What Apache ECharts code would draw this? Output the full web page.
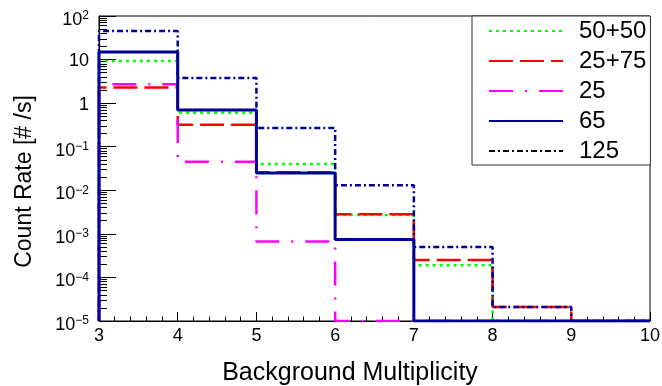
<!DOCTYPE html>
<html>
<head>
<meta charset="utf-8">
<script src="https://cdn.jsdelivr.net/npm/echarts@6/dist/echarts.min.js"></script>
<style>
html,body{margin:0;padding:0;background:#fff;}
#chart{width:662px;height:386px;}
</style>
</head>
<body>
<div id="chart"></div>
<script>
// Bin edges (Background Multiplicity)
const binEdges = [3, 4, 5, 6, 7, 8, 9, 10];
// Count rates per bin [#/s] (0 = empty bin)
const rate5050 = [9.3, 0.6, 0.04, 2.7e-3, 1.9e-4, 0, 0];
const rate2575 = [2.3, 0.32, 0.026, 2.8e-3, 2.5e-4, 2.1e-5, 0];
const rate25   = [2.7, 0.045, 6.7e-4, 0, 0, 0, 0];
const rate65   = [15, 0.7, 0.025, 7.4e-4, 0, 0, 0];
const rate125  = [45, 3.8, 0.27, 0.013, 5.0e-4, 2.1e-5, 0];
const seriesNames = ['50+50', '25+75', '25', '65', '125'];
const yMin = 1e-5, yMax = 100;
const xTicks = [3, 4, 5, 6, 7, 8, 9, 10];

function stepData(vals) {
  const clip = v => (v > yMin ? v : yMin);
  const d = [[binEdges[0], yMin]];
  for (let i = 0; i < vals.length; i++) d.push([binEdges[i], clip(vals[i])]);
  d.push([binEdges[binEdges.length - 1], clip(vals[vals.length - 1])]);
  return d;
}
const minorVals = [];
for (let e = -5; e < 2; e++) for (let m = 2; m <= 9; m++) minorVals.push(m * Math.pow(10, e));

const font = '"Liberation Sans", Arial, Helvetica, sans-serif';
function supLabel(v) {
  const e = Math.round(Math.log10(v));
  if (e === 0) return '{p|1}';
  if (e === 1) return '{p|10}';
  return '{b|10}{s|' + String(e).replace('-', '\u2212') + '}';
}
const styles = {
  '50+50': {color: '#00ff00', width: 2.5, type: [3, 4]},
  '25+75': {color: '#ff0000', width: 2.5, type: [24, 7]},
  '25':    {color: '#ff00ff', width: 2.5, type: [24, 12, 2, 12]},
  '65':    {color: '#000099', width: 3, type: 'solid'},
  '125':   {color: '#000099', width: 2.5, type: [6, 3, 2, 3]}
};
const dataMap = {'50+50': rate5050, '25+75': rate2575, '25': rate25, '65': rate65, '125': rate125};

const chart = echarts.init(document.getElementById('chart'));
chart.setOption({
  animation: false,
  textStyle: {fontFamily: font},
  grid: {left: 99, right: 12, top: 16, bottom: 65, containLabel: false, outerBoundsMode: 'none',
         show: true, borderColor: '#000', borderWidth: 1, backgroundColor: 'transparent'},
  legend: {
    orient: 'vertical', left: 472, top: 16,
    padding: [3, 4, 2, 16],
    itemWidth: 74, itemHeight: 24, itemGap: 6,
    backgroundColor: '#fff', borderColor: '#333', borderWidth: 1,
    itemStyle: {color: 'transparent', borderColor: 'transparent', borderWidth: 0, opacity: 0},
    textStyle: {fontFamily: font, fontSize: 24, lineHeight: 24, color: '#000', padding: [0, 0, 0, 11]},
    data: seriesNames.map(n => n === '125' ? {name: n, lineStyle: {color: '#000'}} : {name: n})
  },
  xAxis: {
    type: 'value', min: 3, max: 10, interval: 1,
    name: 'Background Multiplicity', nameLocation: 'middle', nameGap: 40,
    nameTextStyle: {fontFamily: font, fontSize: 25, lineHeight: 24, color: '#000', padding: [0, 49, 0, 0]},
    axisLine: {show: true, lineStyle: {color: '#000', width: 1}},
    axisTick: {show: true, inside: true, length: 9, lineStyle: {color: '#000'}},
    minorTick: {show: true, splitNumber: 5, length: 4.5, lineStyle: {color: '#000'}},
    axisLabel: {fontFamily: font, fontSize: 18, color: '#000', margin: 6},
    splitLine: {show: false}
  },
  yAxis: [{
    type: 'log', logBase: 10, min: yMin, max: yMax,
    name: 'Count Rate [# /s]', nameLocation: 'middle', nameGap: 62,
    nameTextStyle: {fontFamily: font, fontSize: 23, lineHeight: 24, color: '#000', padding: [0, 26, 0, 0]},
    axisLine: {show: true, lineStyle: {color: '#000', width: 1}},
    axisTick: {show: true, inside: true, length: 17, lineStyle: {color: '#000'}},
    axisLabel: {
      margin: 10, formatter: supLabel,
      rich: {
        p: {fontFamily: font, fontSize: 18, lineHeight: 20, padding: [3, 0, 0, 0], color: '#000'},
        b: {fontFamily: font, fontSize: 18, lineHeight: 20, padding: [8, 0, 0, 0], color: '#000'},
        s: {fontFamily: font, fontSize: 12, lineHeight: 12, padding: [8, 0, 8, 0], color: '#000'}
      }
    },
    splitLine: {show: false}
  }, {
    type: 'log', logBase: 10, min: yMin, max: yMax, position: 'left',
    axisLine: {show: false},
    axisTick: {show: true, inside: true, length: 8, customValues: minorVals, lineStyle: {color: '#000'}},
    axisLabel: {show: false},
    splitLine: {show: false}
  }],
  series: seriesNames.map(n => ({
    name: n, type: 'line', step: 'end', symbol: 'none', yAxisIndex: 0,
    data: stepData(dataMap[n]),
    lineStyle: {color: styles[n].color, width: styles[n].width, type: styles[n].type},
    itemStyle: {color: styles[n].color},
    clip: true
  }))
});
</script>
</body>
</html>
